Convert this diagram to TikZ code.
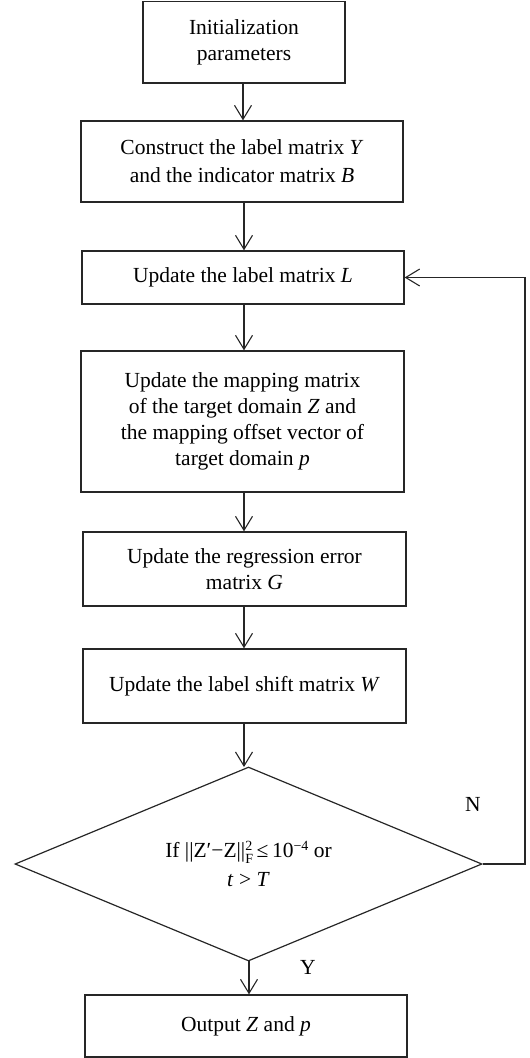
\documentclass[tikz,border=0pt]{standalone}
\usepackage{fontspec}
\setmainfont{Liberation Serif}
\usetikzlibrary{arrows.meta,shapes.geometric}
\newcommand{\supsm}[1]{{\fontsize{14}{14}\selectfont #1}}
\begin{document}
\begin{tikzpicture}[x=1pt,y=-1pt,
  every node/.style={font=\fontsize{21.5}{26}\selectfont},
  box/.style={draw=black!85,line width=1.3pt,rectangle,inner sep=0pt,align=center},
  dec/.style={draw=black!85,line width=1.2pt,diamond,aspect=2.4,inner sep=0pt,align=center},
  conn/.style={draw=black!85,line width=1.1pt,-{Straight Barb[length=14pt,width=17pt,line width=1.1pt]}},
  lab/.style={inner sep=0pt}]
\useasboundingbox (0,0) rectangle (530,1058);
\node[box,minimum width=202pt,minimum height=81.5pt] (b1) at (244,42.25) {Initialization\\parameters};
\node[box,minimum width=322pt,minimum height=81pt] (b2) at (242,161.5) {Construct the label matrix \textit{Y}\\[2pt]and the indicator matrix \textit{B}};
\node[box,minimum width=322pt,minimum height=53pt] (b3) at (243,277.5) {Update the label matrix \textit{L}};
\node[box,minimum width=323pt,minimum height=141pt] (b4) at (242.5,421.5) {Update the mapping matrix\\of the target domain \textit{Z} and\\the mapping offset vector of\\target domain \textit{p}};
\node[box,minimum width=323pt,minimum height=74pt] (b5) at (244.5,569) {Update the regression error\\matrix \textit{G}};
\node[box,minimum width=323pt,minimum height=74pt] (b6) at (244.5,686) {Update the label shift matrix \textit{W}};
\node[dec,minimum width=467pt,minimum height=194pt] (d) at (248.5,864) {If ||Z′−Z||\rlap{\raisebox{0.8ex}{\supsm{2}}}\raisebox{-0.6ex}{\supsm{F}}\,≤\,10\raisebox{0.8ex}{\supsm{−4}} or\\[3pt]\textit{t} > \textit{T}};
\node[box,minimum width=322pt,minimum height=62pt] (b7) at (246,1026) {Output \textit{Z} and \textit{p}};
\node[lab] (nl) at (473,804) {N};
\node[lab] (yl) at (308,967) {Y};
\coordinate (c1) at (525,864);
\coordinate (c2) at (525,277.5);
\draw[conn] (b1.south -| 243,0) -- (b2.north -| 243,0);
\draw[conn] (b2.south -| 244,0) -- (b3.north -| 244,0);
\draw[conn] (b3.south -| 244,0) -- (b4.north -| 244,0);
\draw[conn] (b4.south -| 244,0) -- (b5.north -| 244,0);
\draw[conn] (b5.south -| 244,0) -- (b6.north -| 244,0);
\draw[conn] (b6.south -| 244,0) -- (244,767);
\draw[conn] (249,961) -- (b7.north -| 249,0);
\draw[conn] (d.east) -- (c1) -- (c2) -- (b3.east);
\end{tikzpicture}
\end{document}
